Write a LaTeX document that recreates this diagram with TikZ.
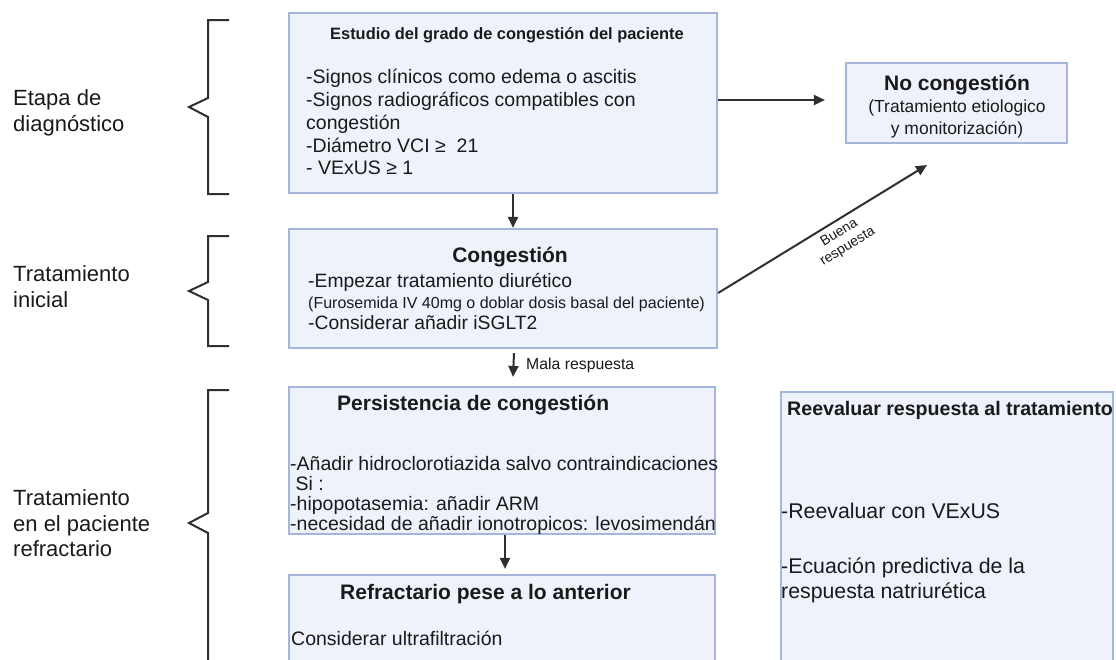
\documentclass[tikz,border=0pt]{standalone}
\usepackage{fontspec}
\setmainfont{Liberation Sans}
\usetikzlibrary{arrows.meta}
\definecolor{boxfill}{HTML}{EEF2FA}
\definecolor{boxline}{HTML}{A5B5DC}
\definecolor{ink}{HTML}{1A1A1A}
\definecolor{linec}{HTML}{2F2F2F}
\tikzset{
  box/.style={draw=boxline, fill=boxfill, line width=2.2pt, inner sep=0pt},
  arr/.style={draw=linec, line width=2pt, -{Triangle[length=11pt,width=10pt]}},
  brace/.style={draw=linec, line width=2pt, line join=miter},
  txt/.style={inner sep=0pt, text=ink, anchor=base west, font=\fontsize{#1}{#1}\selectfont},
  txtc/.style={inner sep=0pt, text=ink, anchor=base, font=\fontsize{#1}{#1}\selectfont},
  bold/.style={inner sep=0pt, text=ink, anchor=base west, font=\fontsize{#1}{#1}\selectfont\bfseries},
  boldc/.style={inner sep=0pt, text=ink, anchor=base, font=\fontsize{#1}{#1}\selectfont\bfseries},
}
\begin{document}
\begin{tikzpicture}[x=1pt,y=-1pt]
\path[use as bounding box, clip] (0,0) rectangle (1116,659);
\fill[white] (0,0) rectangle (1116,659);

% boxes
\node[box, minimum width=428pt, minimum height=180pt] (b1) at (503,103) {};
\node[box, minimum width=221pt, minimum height=80pt] (nc) at (956.5,103) {};
\node[box, minimum width=428pt, minimum height=119pt] (b2) at (503,288.5) {};
\node[box, minimum width=426pt, minimum height=147pt] (b3) at (502,460.5) {};
\node[box, minimum width=426pt, minimum height=125pt] (b4) at (502,637.5) {};
\node[box, minimum width=332pt, minimum height=308pt] (b5) at (947,546) {};

% braces
\draw[brace] (229,20) -- (208,20) -- (208,98) -- (189,107) -- (208,117) -- (208,194) -- (229,194);
\draw[brace] (229,236) -- (208,236) -- (208,282) -- (189,291) -- (208,300) -- (208,346) -- (229,346);
\draw[brace] (229,390) -- (208,390) -- (208,513) -- (189,523) -- (208,533) -- (208,680);

% left labels
\node[txt=22] (l1a) at (13,105) {Etapa de};
\node[txt=22] (l1b) at (13,131) {diagnóstico};
\node[txt=22] (l2a) at (13,281) {Tratamiento};
\node[txt=22] (l2b) at (13,307) {inicial};
\node[txt=22] (l3a) at (13,505) {Tratamiento};
\node[txt=22] (l3b) at (13,531) {en el paciente};
\node[txt=22] (l3c) at (13,556) {refractario};

% box 1
\node[boldc=16.4] (t1) at (507,39) {Estudio del grado de congestión del paciente};
\node[txt=19.5] (t1a) at (306,83) {-Signos clínicos como edema o ascitis};
\node[txt=19.5] (t1b) at (306,106) {-Signos radiográficos compatibles con};
\node[txt=19.5] (t1c) at (306,129) {congestión};
\node[txt=19.5] (t1d) at (306,152) {-Diámetro VCI ≥\ \ 21};
\node[txt=19.5] (t1e) at (306,174) {- VExUS ≥ 1};

% no congestion
\node[boldc=21] (t2) at (957,90) {No congestión};
\node[txtc=17.5] (t2a) at (957,112) {(Tratamiento etiologico};
\node[txtc=17.5] (t2b) at (957,134) {y monitorización)};

% box 2
\node[boldc=21] (t3) at (510,262) {Congestión};
\node[txt=19.3] (t3a) at (308,287) {-Empezar tratamiento diurético};
\node[txt=16] (t3b) at (308,308) {(Furosemida IV 40mg o doblar dosis basal del paciente)};
\node[txt=19.3] (t3c) at (308,329) {-Considerar añadir iSGLT2};

% box 3
\node[bold=21] (t4) at (337,410) {Persistencia de congestión};
\node[txt=19.5] (t4a) at (290,470) {-Añadir hidroclorotiazida salvo contraindicaciones};
\node[txt=19.5] (t4b) at (290,490) {\ Si :};
\node[txt=19.5] (t4c) at (290,510) {-hipopotasemia: añadir ARM};
\node[txt=19.5] (t4d) at (290,530) {-necesidad de añadir ionotropicos: levosimendán};

% box 4
\node[bold=21] (t5) at (340,599) {Refractario pese a lo anterior};
\node[txt=19.5] (t5a) at (291,645) {Considerar ultrafiltración};

% box 5
\node[bold=19.6] (t6) at (787,415) {Reevaluar respuesta al tratamiento};
\node[txt=21.3] (t6a) at (781,518) {-Reevaluar con VExUS};
\node[txt=21.3] (t6b) at (781,573) {-Ecuación predictiva de la};
\node[txt=21.3] (t6c) at (781,598) {respuesta natriurética};

% connectors
\draw[arr] ([xshift=10pt]b1.south) -- ([xshift=10pt]b2.north);
\draw[arr] ([xshift=11pt,yshift=-4pt]b2.south) -- ([xshift=11pt,yshift=9pt]b3.north);
\node[txt=15.8] (mala) at (526,369) {Mala respuesta};
\draw[arr] ([xshift=3pt]b3.south) -- ([xshift=3pt,yshift=5pt]b4.north);
\draw[arr, shorten >=20pt] ([yshift=3pt]b1.east) -- ([yshift=3pt]nc.west);
\coordinate (bt) at (927,165);
\draw[arr] ([yshift=-4.5pt]b2.east) -- node[pos=0.55, sloped, anchor=north, inner sep=5pt, align=center, text=ink, font=\fontsize{14}{16}\selectfont] (buena) {Buena\\respuesta} (bt);
\end{tikzpicture}
\end{document}
